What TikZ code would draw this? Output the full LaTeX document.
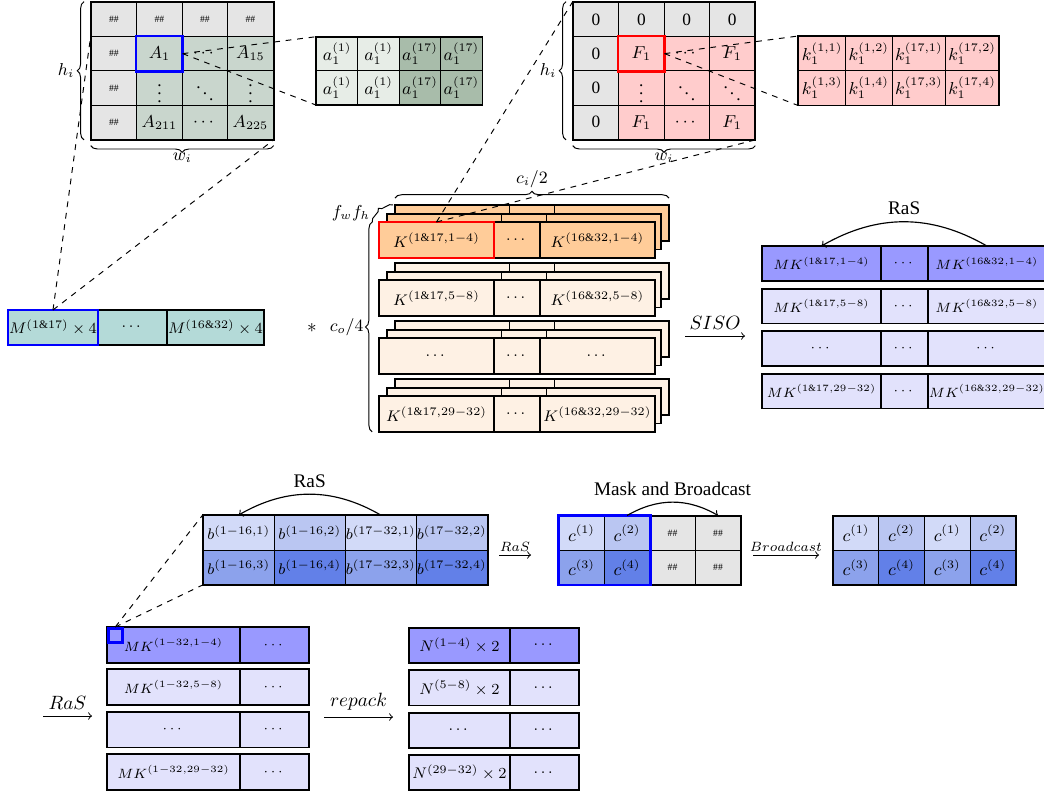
\documentclass[tikz,border=0pt]{standalone}
\usepackage{amsmath}
\usepackage{fontspec}
\setmainfont{Liberation Serif}
\usetikzlibrary{positioning, decorations.pathreplacing}

\newdimen\px
\px=0.52pt

\definecolor{agreen}{RGB}{201,214,205}
\definecolor{alight}{RGB}{231,237,231}
\definecolor{adark}{RGB}{168,188,170}
\definecolor{mteal}{RGB}{180,218,216}
\definecolor{kdark}{RGB}{255,204,153}
\definecolor{klight}{RGB}{254,241,228}
\definecolor{mkdark}{RGB}{153,153,255}
\definecolor{mklight}{RGB}{226,226,252}
\definecolor{cone}{RGB}{210,218,248}
\definecolor{ctwo}{RGB}{186,198,242}
\definecolor{cthree}{RGB}{140,162,236}
\definecolor{cfour}{RGB}{98,128,232}

\begin{document}
\begin{tikzpicture}[x=0.52pt, y=-0.52pt,
    gcell/.style={draw, line width=0.5pt, inner sep=0pt, anchor=north west},
    padcell/.style={gcell, fill=gray!20, font=\tiny},
    tile/.style={minimum width=45.5\px, minimum height=34.3\px},
    boxframe/.style={draw, line width=0.9pt},
    hilite/.style={draw=#1, line width=1.3pt},
    zoomline/.style={dashed, line width=0.5pt},
    brc/.style={decorate, decoration={brace, amplitude=3.5pt}, line width=0.5pt},
    rasarrow/.style={->, line width=0.6pt},
    oparrow/.style={->, line width=0.5pt}
  ]
  \useasboundingbox (0,0) rectangle (1044,795);

  % ==========================================
  % input tile A and its packed block
  % ==========================================
  \foreach \c in {0,...,3}
    \node[padcell, tile] (A0\c) at ({90.7+45.5*\c},1.7) {\#\#};
  \foreach \r in {1,2,3}
    \node[padcell, tile] (A\r0) at (90.7,{1.7+34.3*\r}) {\#\#};
  \foreach \r/\c/\lbl in {1/1/A_1, 1/2/\cdots, 1/3/A_{15}, 2/1/\vdots, 2/2/\ddots, 2/3/\vdots, 3/1/A_{211}, 3/2/\cdots, 3/3/A_{225}}
    \node[gcell, tile, fill=agreen, font=\small] (A\r\c) at ({90.7+45.5*\c},{1.7+34.3*\r}) {$\lbl$};
  \draw[boxframe] (A00.north west) rectangle (A33.south east);
  \draw[hilite=blue] (A11.north west) rectangle (A11.south east);
  \draw[brc] ([xshift=-3.5pt]A30.south west) -- ([xshift=-3.5pt]A00.north west)
    node[midway, left=1.5pt, font=\small] {$h_i$};
  \draw[brc] ([yshift=-3pt]A33.south east) -- ([yshift=-3pt]A30.south west)
    node[midway, below=0.5pt, font=\small] {$w_i$};

  \foreach \c/\fc/\lbl in {0/alight/{a_1^{(1)}}, 1/alight/{a_1^{(1)}}, 2/adark/{a_1^{(17)}}, 3/adark/{a_1^{(17)}}}
    \foreach \r in {0,1}
      \node[gcell, fill=\fc, minimum width=41.4\px, minimum height=33.7\px, font=\small] (a\r\c) at ({316+41.4*\c},{36.7+33.7*\r}) {$\lbl$};
  \draw[boxframe] (a00.north west) rectangle (a13.south east);

  \draw[zoomline] (A11.east) -- (a00.north west);
  \draw[zoomline] (A11.east) -- (a10.south west);

  % ==========================================
  % kernel tile F and its packed block
  % ==========================================
  \foreach \c in {0,...,3}
    \node[padcell, tile, font=\small] (F0\c) at ({572.7+45.4*\c},1.7) {0};
  \foreach \r in {1,2,3}
    \node[padcell, tile, font=\small] (F\r0) at (572.7,{1.7+34.3*\r}) {0};
  \foreach \r/\c/\lbl in {1/1/F_1, 1/2/\cdots, 1/3/F_1, 2/1/\vdots, 2/2/\ddots, 2/3/\ddots, 3/1/F_1, 3/2/\cdots, 3/3/F_1}
    \node[gcell, tile, fill=red!20, font=\small] (F\r\c) at ({572.7+45.4*\c},{1.7+34.3*\r}) {$\lbl$};
  \draw[boxframe] (F00.north west) rectangle (F33.south east);
  \draw[hilite=red] (F11.north west) rectangle (F11.south east);
  \draw[brc] ([xshift=-3.5pt]F30.south west) -- ([xshift=-3.5pt]F00.north west)
    node[midway, left=1.5pt, font=\small] {$h_i$};
  \draw[brc] ([yshift=-3pt]F33.south east) -- ([yshift=-3pt]F30.south west)
    node[midway, below=0.5pt, font=\small] {$w_i$};

  \foreach \r/\c/\x/\w/\lbl in {0/0/798.3/46.7/{k_1^{(1,1)}}, 0/1/845/46.7/{k_1^{(1,2)}}, 0/2/891.7/53.3/{k_1^{(17,1)}}, 0/3/945/53.3/{k_1^{(17,2)}},
      1/0/798.3/46.7/{k_1^{(1,3)}}, 1/1/845/46.7/{k_1^{(1,4)}}, 1/2/891.7/53.3/{k_1^{(17,3)}}, 1/3/945/53.3/{k_1^{(17,4)}}}
    \node[gcell, fill=red!20, minimum width=\w\px, minimum height=34.3\px, font=\small] (k\r\c) at (\x,{36+34.3*\r}) {$\lbl$};
  \draw[boxframe] (k00.north west) rectangle (k13.south east);

  \draw[zoomline] (F11.east) -- (k00.north west);
  \draw[zoomline] (F11.east) -- (k10.south west);

  % ==========================================
  % packed input M  *  packed kernels K
  % ==========================================
  \node[gcell, fill=mteal, minimum width=89\px, minimum height=34\px, font=\footnotesize] (M1) at (8,310) {$M^{(1\&17)}\times 4$};
  \node[gcell, fill=mteal, minimum width=68\px, minimum height=34\px, font=\footnotesize, right=0pt of M1] (M2) {$\cdots$};
  \node[gcell, fill=mteal, minimum width=96\px, minimum height=34\px, font=\footnotesize, right=0pt of M2] (M3) {$M^{(16\&32)}\times 4$};
  \draw[boxframe] (M1.north west) rectangle (M3.south east);
  \draw[hilite=blue] (M1.north west) rectangle (M1.south east);

  \draw[zoomline] (M1.north) -- (A10.north west);
  \draw[zoomline] (M1.north) -- (A33.south east);

  \node (conv) at (312,328) {$*$};

  \foreach \row/\kf/\la/\lc in {0/kdark/{K^{(1\&17,1-4)}}/{K^{(16\&32,1-4)}}, 1/klight/{K^{(1\&17,5-8)}}/{K^{(16\&32,5-8)}},
      2/klight/{\cdots}/{\cdots}, 3/klight/{K^{(1\&17,29-32)}}/{K^{(16\&32,29-32)}}}{
    % stacked copies behind
    \foreach \l in {2,1}{
      \foreach \x/\w/\j in {379/114/a, 493/45/b, 538/114/c}
        \node[gcell, fill=\kf, minimum width=\w\px, minimum height=35\px] (K\row\j\l) at ({\x+8*\l},{222+58*\row-8.5*\l}) {};
      \draw[boxframe] (K\row a\l.north west) rectangle (K\row c\l.south east);
    }
    \node[gcell, fill=\kf, minimum width=114\px, minimum height=35\px, font=\footnotesize] (K\row a) at (379,{222+58*\row}) {$\la$};
    \node[gcell, fill=\kf, minimum width=45\px, minimum height=35\px, font=\footnotesize, right=0pt of K\row a] (K\row b) {$\cdots$};
    \node[gcell, fill=\kf, minimum width=114\px, minimum height=35\px, font=\footnotesize, right=0pt of K\row b] (K\row c) {$\lc$};
    \draw[boxframe] (K\row a.north west) rectangle (K\row c.south east);
  }
  \draw[hilite=red] (K0a.north west) rectangle (K0a.south east);

  \draw[brc] ([yshift=3.6pt]K0a2.north west) -- ([yshift=3.6pt]K0c2.north east)
    node[midway, above=1.5pt, font=\small] {$c_i/2$};
  \draw[brc] ([xshift=-3.5pt]K3a.south west) -- ([xshift=-3.5pt]K0a.north west)
    node[midway, left=1pt, font=\small] {$c_o/4$};
  \draw[brc] ([xshift=-3.5pt]K0a.north west) -- ([xshift=-1pt]K0a2.north west)
    node[midway, left=3pt, font=\small] {$f_wf_h$};

  \draw[zoomline] (K0a.north) -- (F00.north west);
  \draw[zoomline] (K0a.north) -- (F33.south east);

  % ==========================================
  % SISO result
  % ==========================================
  \coordinate (sisoL) at (685,336);
  \coordinate (sisoR) at (745,336);
  \draw[oparrow] (sisoL) -- node[above] {$SISO$} (sisoR);

  \foreach \row/\fc/\la/\lc in {0/mkdark/{MK^{(1\&17,1-4)}}/{MK^{(16\&32,1-4)}}, 1/mklight/{MK^{(1\&17,5-8)}}/{MK^{(16\&32,5-8)}},
      2/mklight/{\cdots}/{\cdots}, 3/mklight/{MK^{(1\&17,29-32)}}/{MK^{(16\&32,29-32)}}}{
    \node[gcell, fill=\fc, minimum width=118\px, minimum height=34\px, font=\scriptsize] (MK\row a) at (762,{246+42.5*\row}) {$\la$};
    \node[gcell, fill=\fc, minimum width=46\px, minimum height=34\px, font=\scriptsize, right=0pt of MK\row a] (MK\row b) {$\cdots$};
    \node[gcell, fill=\fc, minimum width=117\px, minimum height=34\px, font=\scriptsize, right=0pt of MK\row b] (MK\row c) {$\lc$};
    \draw[boxframe] (MK\row a.north west) rectangle (MK\row c.south east);
  }
  \draw[rasarrow] (MK0c.north) to[bend right=30] node[midway, above] {RaS} (MK0a.north);

  % ==========================================
  % rotate-and-sum inside one ciphertext
  % ==========================================
  \foreach \r/\c/\fc/\lbl in {0/0/cone/{b^{(1-16,1)}}, 0/1/ctwo/{b^{(1-16,2)}}, 0/2/cone/{b^{(17-32,1)}}, 0/3/ctwo/{b^{(17-32,2)}},
      1/0/cthree/{b^{(1-16,3)}}, 1/1/cfour/{b^{(1-16,4)}}, 1/2/cthree/{b^{(17-32,3)}}, 1/3/cfour/{b^{(17-32,4)}}}
    \node[gcell, fill=\fc, minimum width=71\px, minimum height=34.5\px, font=\footnotesize] (b\r\c) at ({202.7+71*\c},{515+34.5*\r}) {$\lbl$};
  \draw[boxframe] (b00.north west) rectangle (b13.south east);
  \draw[rasarrow] (b02.north) to[bend right=30] node[midway, above] {RaS} (b00.north);

  \coordinate (rasbL) at (499,555);
  \coordinate (rasbR) at (531,555);
  \draw[oparrow] (rasbL) -- node[above, inner sep=1.5pt, font=\scriptsize] {$RaS$} (rasbR);

  \foreach \r/\c/\fc/\lbl in {0/0/cone/{c^{(1)}}, 0/1/ctwo/{c^{(2)}}, 1/0/cthree/{c^{(3)}}, 1/1/cfour/{c^{(4)}}}
    \node[gcell, fill=\fc, minimum width=45.5\px, minimum height=34.3\px, font=\small] (c\r\c) at ({558.3+45.5*\c},{515.5+34.3*\r}) {$\lbl$};
  \foreach \r in {0,1}
    \foreach \c in {2,3}
      \node[padcell, minimum width=45.5\px, minimum height=34.3\px] (c\r\c) at ({558.3+45.5*\c},{515.5+34.3*\r}) {\#\#};
  \draw[boxframe] (c00.north west) rectangle (c13.south east);
  \draw[hilite=blue] (c00.north west) rectangle (c11.south east);
  \draw[rasarrow] (c01.north) to[bend left=30] node[midway, above] {Mask and Broadcast} (c03.north);

  \coordinate (bcastL) at (753,555);
  \coordinate (bcastR) at (819,555);
  \draw[oparrow] (bcastL) -- node[above, inner sep=1.5pt, font=\scriptsize] {$Broadcast$} (bcastR);

  \foreach \r/\c/\fc/\lbl in {0/0/cone/{c^{(1)}}, 0/1/ctwo/{c^{(2)}}, 0/2/cone/{c^{(1)}}, 0/3/ctwo/{c^{(2)}},
      1/0/cthree/{c^{(3)}}, 1/1/cfour/{c^{(4)}}, 1/2/cthree/{c^{(3)}}, 1/3/cfour/{c^{(4)}}}
    \node[gcell, fill=\fc, minimum width=45.6\px, minimum height=34.2\px, font=\small] (d\r\c) at ({832.7+45.6*\c},{515.7+34.2*\r}) {$\lbl$};
  \draw[boxframe] (d00.north west) rectangle (d13.south east);

  % ==========================================
  % summed result and repacking
  % ==========================================
  \coordinate (rascL) at (43,716);
  \coordinate (rascR) at (92,716);
  \draw[oparrow] (rascL) -- node[above] {$RaS$} (rascR);

  \foreach \row/\fc/\lbl in {0/mkdark/{MK^{(1-32,1-4)}}, 1/mklight/{MK^{(1-32,5-8)}}, 2/mklight/{\cdots}, 3/mklight/{MK^{(1-32,29-32)}}}{
    \node[gcell, fill=\fc, minimum width=132\px, minimum height=35\px, font=\scriptsize] (S\row a) at (107,{627+42.3*\row}) {$\lbl$};
    \node[gcell, fill=\fc, minimum width=68\px, minimum height=35\px, font=\scriptsize, right=0pt of S\row a] (S\row b) {$\cdots$};
    \draw[boxframe] (S\row a.north west) rectangle (S\row b.south east);
  }
  \node[hilite=blue, anchor=north west, minimum size=14\px, inner sep=0pt] (sq) at (107,627) {};

  \draw[zoomline] (sq.north) -- (b00.north west);
  \draw[zoomline] (sq.north) -- (b10.south west);

  \coordinate (repackL) at (324,717);
  \coordinate (repackR) at (393,717);
  \draw[oparrow] (repackL) -- node[above] {$repack$} (repackR);

  \foreach \row/\fc/\lbl in {0/mkdark/{N^{(1-4)}\times 2}, 1/mklight/{N^{(5-8)}\times 2}, 2/mklight/{\cdots}, 3/mklight/{N^{(29-32)}\times 2}}{
    \node[gcell, fill=\fc, minimum width=100\px, minimum height=34.5\px, font=\footnotesize] (N\row a) at (409,{627.7+42.4*\row}) {$\lbl$};
    \node[gcell, fill=\fc, minimum width=68\px, minimum height=34.5\px, font=\footnotesize, right=0pt of N\row a] (N\row b) {$\cdots$};
    \draw[boxframe] (N\row a.north west) rectangle (N\row b.south east);
  }

\end{tikzpicture}
\end{document}
